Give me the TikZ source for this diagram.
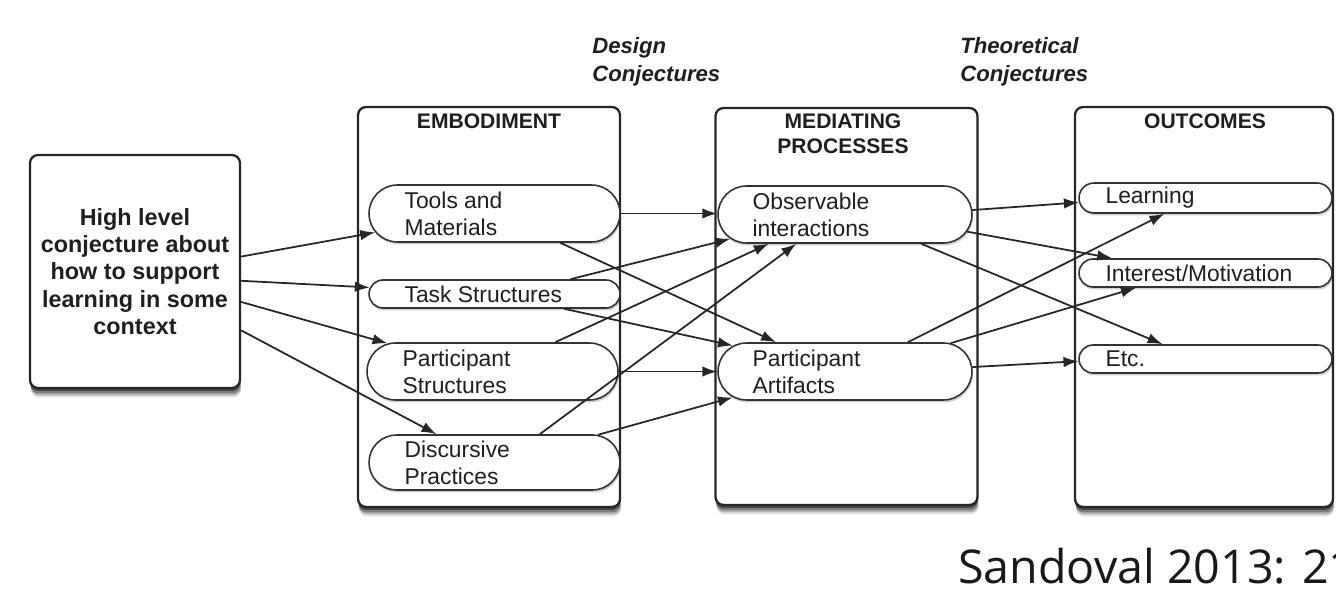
\documentclass[tikz,border=0pt]{standalone}
\usepackage{fontspec}
\setmainfont{Liberation Sans}
\newfontfamily\opensans{Open Sans}
\usetikzlibrary{shapes.misc,arrows.meta,shadows,calc}

\begin{document}
\begin{tikzpicture}[x=0.02cm,y=-0.02cm,
  bigbox/.style={draw=black!85, line width=1.3pt, rounded corners=0.16cm, fill=white, inner sep=0pt,
     drop shadow={shadow xshift=0.02cm, shadow yshift=-0.19cm, opacity=0.12, fill=black},
     drop shadow={shadow xshift=0.02cm, shadow yshift=-0.15cm, opacity=0.2, fill=black},
     drop shadow={shadow xshift=0.01cm, shadow yshift=-0.11cm, opacity=0.3, fill=black},
     drop shadow={shadow xshift=0.0cm, shadow yshift=-0.06cm, opacity=0.45, fill=black}},
  stad/.style={rounded rectangle, draw=black!80, line width=0.9pt, fill=white, inner sep=0pt,
     drop shadow={shadow xshift=0.02cm, shadow yshift=-0.05cm, opacity=0.18, fill=black}},
  lbl/.style={anchor=west, align=left, inner sep=0pt, text=black!88,
     font=\fontsize{13}{15.4}\selectfont},
  ttl/.style={anchor=north, align=center, inner sep=0pt, text=black!88,
     font=\bfseries\fontsize{12}{14.2}\selectfont},
  conj/.style={anchor=north west, align=left, inner sep=0pt, text=black!88,
     font=\bfseries\itshape\fontsize{12.6}{15.9}\selectfont},
  conn/.style={draw=black!85, line width=1pt, -{Latex[length=8.5pt,width=6pt]}}
]
\useasboundingbox (0,0) rectangle (1336,591);

% main boxes
\node[bigbox, minimum width=4.2cm, minimum height=4.66cm, align=center, text=black!88,
      font=\bfseries\fontsize{13.3}{15.6}\selectfont] (hl) at (135,271.5)
      {High level\\conjecture about\\how to support\\learning in some\\context};
\node[bigbox, minimum width=5.24cm, minimum height=8cm] (emb) at (489,307) {};
\node[bigbox, minimum width=5.24cm, minimum height=7.94cm] (med) at (846.5,306.5) {};
\node[bigbox, minimum width=5.16cm, minimum height=8cm] (out) at (1204,307) {};

% titles
\node[ttl] (embt) at (489,113) {EMBODIMENT};
\node[ttl] (medt) at (843,113) {MEDIATING\\PROCESSES};
\node[ttl] (outt) at (1205,113) {OUTCOMES};
\node[conj] (dc) at (592,37) {Design\\Conjectures};
\node[conj] (tc) at (960,37) {Theoretical\\Conjectures};

% stadium nodes
\node[stad, minimum width=5.02cm, minimum height=1.14cm] (tm) at (494.5,213.5) {};
\node[stad, minimum width=5.02cm, minimum height=0.56cm] (ts) at (494.5,294) {};
\node[stad, minimum width=5.02cm, minimum height=1.14cm] (ps) at (492.5,371.5) {};
\node[stad, minimum width=5.02cm, minimum height=1.10cm] (dp) at (494.5,462.5) {};
\node[stad, minimum width=5.08cm, minimum height=1.14cm] (oi) at (845,214.5) {};
\node[stad, minimum width=5.08cm, minimum height=1.14cm] (pa) at (845,371.5) {};
\node[stad, minimum width=5.06cm, minimum height=0.60cm] (le) at (1205.5,198) {};
\node[stad, minimum width=5.06cm, minimum height=0.56cm] (im) at (1205.5,273) {};
\node[stad, minimum width=5.06cm, minimum height=0.56cm] (et) at (1205.5,359) {};

\node[lbl] (tml) at ($(tm.west)+(36,0)$) {Tools and\\Materials};
\node[lbl] (tsl) at ($(ts.west)+(36,0)$) {Task Structures};
\node[lbl] (psl) at ($(ps.west)+(36,0)$) {Participant\\Structures};
\node[lbl] (dpl) at ($(dp.west)+(36,0)$) {Discursive\\Practices};
\node[lbl] (oil) at ($(oi.west)+(35,0)$) {Observable\\interactions};
\node[lbl] (pal) at ($(pa.west)+(35,0)$) {Participant\\Artifacts};
\node[lbl] (lel) at ($(le.west)+(27,0)$) {Learning};
\node[lbl] (iml) at ($(im.west)+(27,0)$) {Interest/Motivation};
\node[lbl] (etl) at ($(et.west)+(27,0)$) {Etc.};

% connectors: high level -> embodiment
\draw[conn] (hl.8.9) -- (tm.189);
\draw[conn] (hl.-5.7) -- (ts.177);
\draw[conn] (hl.-16.7) -- (ps.165);
\draw[conn] (hl.-29.1) -- (dp.154);

% embodiment -> mediating
\draw[conn] (tm.east) -- (tm.east -| oi.west);
\draw[conn] (tm.-24.5) -- (pa.157.8);
\draw[conn] (ts.11.55) -- (oi.192.8);
\draw[conn] (ts.-12.1) -- (pa.167);
\draw[conn] (ps.25.2) -- (oi.201.6);
\draw[conn] (ps.east) -- (ps.east -| pa.west);
\draw[conn] (dp.32.9) -- (oi.211.2);
\draw[conn] (dp.15) -- (pa.193.8);

% mediating -> outcomes
\draw[conn] (oi.2.9) -- (le.182.7);
\draw[conn] (oi.-8.6) -- (im.171.7);
\draw[conn] (oi.-21.6) -- (et.161.8);
\draw[conn] (pa.25.4) -- (le.201.3);
\draw[conn] (pa.15.6) -- (im.192.6);
\draw[conn] (pa.2) -- (et.181.8);

% source
\node[anchor=base west, inner sep=0pt, text=black!90,
      font=\opensans\fontsize{26.5}{30}\selectfont] (src) at (958,583.5) {Sandoval 2013: 21};
\end{tikzpicture}
\end{document}
